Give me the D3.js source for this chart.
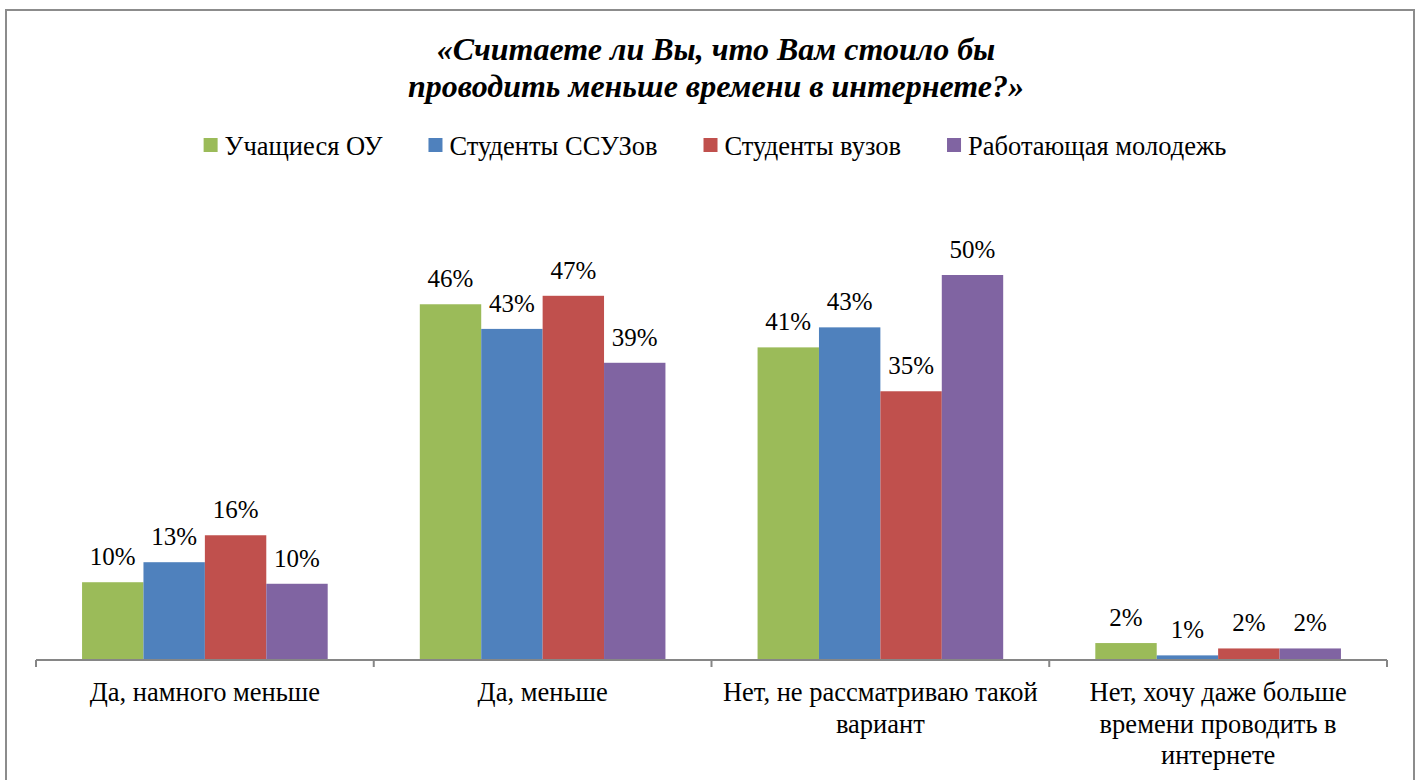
<!DOCTYPE html>
<meta charset="utf-8">
<script src="https://d3js.org/d3.v7.min.js"></script>
<body style="margin:0; background:#fff">
<div id="chart"></div>
<script>
// data
var categories = [
  ["Да, намного меньше"],
  ["Да, меньше"],
  ["Нет, не рассматриваю такой", "вариант"],
  ["Нет, хочу даже больше", "времени проводить в", "интернете"]
];
var series = ["Учащиеся ОУ", "Студенты ССУЗов", "Студенты вузов", "Работающая молодежь"];
var colors = ["#9BBB59", "#4F81BD", "#C0504D", "#8064A2"];
// values in percent, one array per series (one value per category)
var uchashchiesya  = [10.1, 46.2, 40.6, 2.2];
var ssuz           = [12.7, 43.0, 43.2, 0.6];
var vuz            = [16.2, 47.3, 34.9, 1.5];
var rabotayushchie = [9.9, 38.6, 50.0, 1.5];
var values = [uchashchiesya, ssuz, vuz, rabotayushchie];
var titleLines = ["«Считаете ли Вы, что Вам стоило бы", "проводить меньше времени в интернете?»"];

var FONT = "'Liberation Serif', 'Times New Roman', serif";
var W = 1424, H = 780;
var svg = d3.select("#chart").append("svg")
  .attr("width", W).attr("height", H)
  .style("font-family", FONT);

// outer frame
svg.append("rect")
  .attr("x", 6).attr("y", 10)
  .attr("width", 1408).attr("height", 790)
  .attr("fill", "none")
  .attr("stroke", "#8c8c8c")
  .attr("stroke-width", 2);

// title
svg.append("g").selectAll("text")
  .data(titleLines)
  .enter().append("text")
    .attr("x", 716)
    .attr("y", function(d, i) { return 60 + i * 37; })
    .attr("text-anchor", "middle")
    .style("font-family", FONT)
    .style("font-size", "32px")
    .style("font-weight", "bold")
    .style("font-style", "italic")
    .text(function(d) { return d; });

// scales
var x0 = d3.scaleBand()
  .domain(d3.range(categories.length))
  .range([36, 1387]);

var x1 = d3.scaleBand()
  .domain(d3.range(series.length))
  .range([0, x0.bandwidth()])
  .paddingOuter(0.75);

var y = d3.scaleLinear()
  .domain([0, 50])
  .range([660, 275]);

// bars
var groups = svg.append("g").selectAll("g")
  .data(categories)
  .enter().append("g")
    .attr("transform", function(d, i) { return "translate(" + x0(i) + ",0)"; });

function rows(d, ci) { return values.map(function(v, si) { return { s: si, v: v[ci] }; }); }

groups.selectAll("rect")
  .data(rows)
  .enter().append("rect")
    .attr("x", function(d) { return x1(d.s); })
    .attr("y", function(d) { return y(d.v); })
    .attr("width", x1.bandwidth())
    .attr("height", function(d) { return y(0) - y(d.v); })
    .attr("fill", function(d) { return colors[d.s]; });

groups.selectAll("text.lbl")
  .data(rows)
  .enter().append("text")
    .attr("class", "lbl")
    .attr("x", function(d) { return x1(d.s) + x1.bandwidth() / 2; })
    .attr("y", function(d) { return y(d.v) - 17; })
    .attr("text-anchor", "middle")
    .style("font-family", FONT)
    .style("font-size", "25px")
    .text(function(d) { return Math.round(d.v) + "%"; });

// x axis
var axis = svg.append("g")
  .attr("transform", "translate(0," + y(0) + ")");
axis.append("line")
  .attr("x1", 36).attr("x2", 1387)
  .attr("stroke", "#868686").attr("stroke-width", 2);
axis.selectAll(".edge")
  .data(d3.range(categories.length + 1))
  .enter().append("line")
    .attr("x1", function(d) { return 36 + d * x0.step(); })
    .attr("x2", function(d) { return 36 + d * x0.step(); })
    .attr("y1", 0).attr("y2", 7)
    .attr("stroke", "#868686").attr("stroke-width", 2);

// category labels
var catLbl = svg.append("g").selectAll("text")
  .data(categories)
  .enter().append("text")
    .attr("text-anchor", "middle")
    .style("font-family", FONT)
    .style("font-size", "26.5px");
catLbl.selectAll("tspan")
  .data(function(d, i) { return d.map(function(t) { return { t: t, i: i }; }); })
  .enter().append("tspan")
    .attr("x", function(d) { return x0(d.i) + x0.bandwidth() / 2; })
    .attr("y", function(d, j) { return 701 + j * 31.5; })
    .text(function(d) { return d.t; });

// legend
var legend = svg.append("g");
var lx = 0;
series.forEach(function(name, i) {
  var g = legend.append("g").attr("transform", "translate(" + lx + ",0)");
  g.append("rect")
    .attr("x", 0).attr("y", 138)
    .attr("width", 14).attr("height", 14)
    .attr("fill", colors[i]);
  var t = g.append("text")
    .attr("x", 21).attr("y", 155)
    .style("font-family", FONT)
    .style("font-size", "26.5px")
    .text(name);
  lx += 21 + t.node().getComputedTextLength() + 46;
});
var legendW = lx - 46;
legend.attr("transform", "translate(" + (715 - legendW / 2) + ",0)");
</script>
